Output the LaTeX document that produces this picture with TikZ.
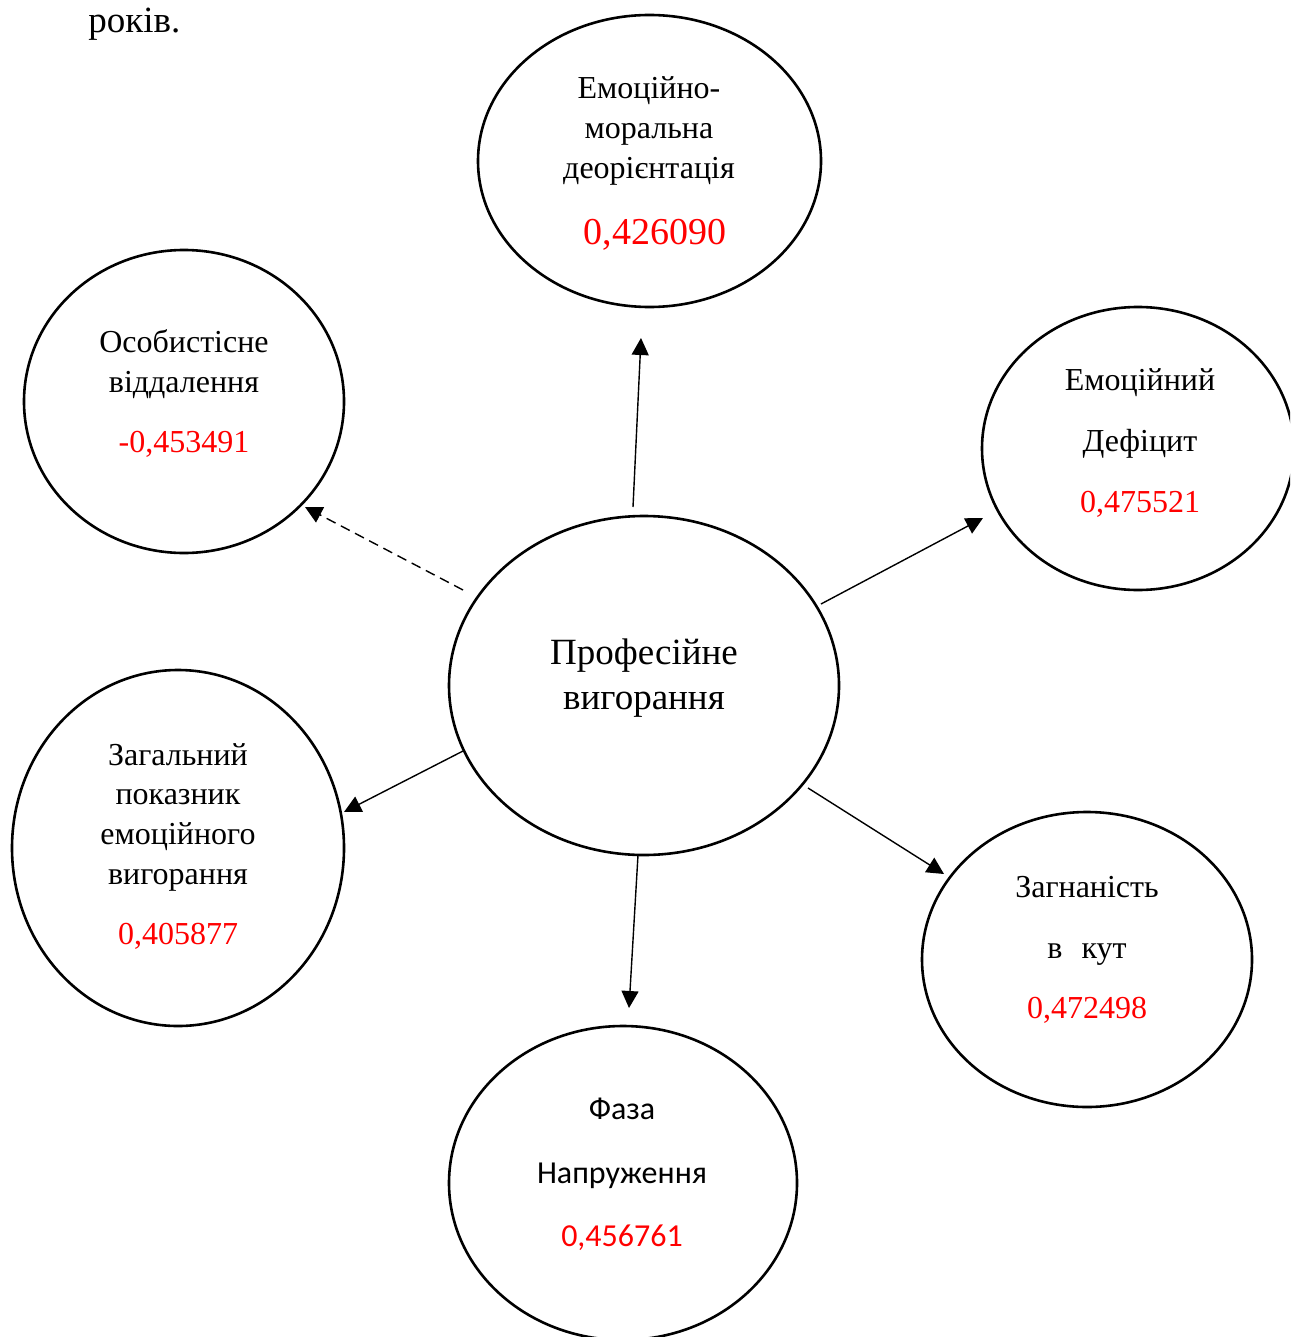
\documentclass[tikz,border=0pt]{standalone}
\usepackage{fontspec}
\setmainfont{Liberation Serif}
\newfontfamily\calib{Carlito}
\usetikzlibrary{shapes.geometric,arrows.meta}
\begin{document}
\begin{tikzpicture}[x=0.5pt,y=-0.5pt,
  ell/.style={draw, ellipse, line width=1.3pt, inner sep=0pt},
  lbl/.style={anchor=base, inner sep=0pt, font=\fontsize{16}{18}\selectfont},
  num/.style={lbl, text=red},
  fzs/.style={font=\calib\fontsize{16}{18}\selectfont},
  arr/.style={line width=0.7pt, -{Triangle[length=8.5pt,width=8.5pt]}}]
\useasboundingbox (0,0) rectangle (1290,1337);
\clip (0,0) rectangle (1290,1337);

% ellipses
\node[ell, minimum width=171.5pt, minimum height=146pt] (top) at (649.5,161) {};
\node[ell, minimum width=160pt, minimum height=151.5pt] (os) at (184,401.5) {};
\node[ell, minimum width=156pt, minimum height=141.5pt] (ed) at (1138,448.5) {};
\node[ell, minimum width=195pt, minimum height=169.5pt] (c) at (644,685.5) {};
\node[ell, minimum width=166pt, minimum height=178pt] (zp) at (178,848) {};
\node[ell, minimum width=165pt, minimum height=147.5pt] (zg) at (1087,959.5) {};
\node[ell, minimum width=174pt, minimum height=157pt] (fz) at (623,1183) {};

% header fragment
\node[lbl, anchor=base west, font=\fontsize{18.5}{22}\selectfont] (rok) at (88,33) {років.};

% texts
\node[lbl] (t1) at (649,99) {Емоційно-};
\node[lbl] (t2) at (649,139) {моральна};
\node[lbl] (t3) at (649,179) {деорієнтація};
\node[num, font=\fontsize{19}{22}\selectfont] (t4) at (655,244) {0,426090};

\node[lbl] (o1) at (184,352) {Особистісне};
\node[lbl] (o2) at (184,392) {віддалення};
\node[num] (o3) at (184,452) {-0,453491};

\node[lbl] (e1) at (1140,390) {Емоційний};
\node[lbl] (e2) at (1140,451) {Дефіцит};
\node[num] (e3) at (1140,512) {0,475521};

\node[lbl, font=\fontsize{18.5}{22}\selectfont] (c1) at (644,664) {Професійне};
\node[lbl, font=\fontsize{18.5}{22}\selectfont] (c2) at (644,709) {вигорання};

\node[lbl] (z1) at (178,765) {Загальний};
\node[lbl] (z2) at (178,804) {показник};
\node[lbl] (z3) at (178,844) {емоційного};
\node[lbl] (z4) at (178,884) {вигорання};
\node[num] (z5) at (178,944) {0,405877};

\node[lbl] (g1) at (1087,897) {Загнаність};
\node[lbl] (g2) at (1087,958) {в\hspace{0.6em}кут};
\node[num] (g3) at (1087,1018) {0,472498};

\node[lbl, fzs] (f1) at (622,1119) {Фаза};
\node[lbl, fzs] (f2) at (622,1183) {Напруження};
\node[num, fzs] (f3) at (622,1246) {0,456761};

% arrow end points
\coordinate (a1s) at (633,507);  \coordinate (a1e) at (641,338);
\coordinate (a2s) at (463,590);  \coordinate (a2e) at (305,507);
\coordinate (a3s) at (821,604);  \coordinate (a3e) at (983,518);
\coordinate (a4s) at (463,751);  \coordinate (a4e) at (344,812);
\coordinate (a5s) at (808,788);  \coordinate (a5e) at (944,874);
\coordinate (a6s) at (638,855);  \coordinate (a6e) at (629,1008);

\draw[arr] (a1s) -- (a1e);
\draw[arr, dashed, dash pattern=on 5pt off 3pt] (a2s) -- (a2e);
\draw[arr] (a3s) -- (a3e);
\draw[arr] (a4s) -- (a4e);
\draw[arr] (a5s) -- (a5e);
\draw[arr] (a6s) -- (a6e);
\end{tikzpicture}
\end{document}
